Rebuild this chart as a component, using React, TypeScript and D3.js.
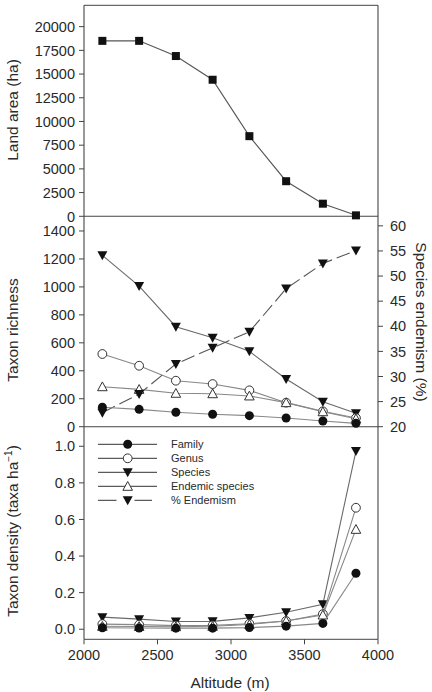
import React from "react";
import * as d3 from "d3";

const altitudes = [2125, 2375, 2625, 2875, 3125, 3375, 3625, 3850];
const landArea = [18500, 18500, 16900, 14400, 8450, 3700, 1330, 100];

const richFamily = [139, 124, 103, 89, 79, 62, 41, 24];
const richGenus = [520, 436, 329, 305, 260, 172, 110, 62];
const richSpecies = [1226, 1006, 715, 637, 539, 341, 179, 96];
const richEndemic = [286, 267, 239, 236, 220, 172, 107, 57];
const pctEndemism = [22.8, 26.5, 32.5, 35.7, 38.9, 47.5, 52.5, 55.1];

const densFamily = [0.008, 0.007, 0.006, 0.006, 0.009, 0.017, 0.032, 0.306];
const densGenus = [0.028, 0.025, 0.02, 0.021, 0.03, 0.045, 0.083, 0.664];
const densSpecies = [0.066, 0.055, 0.042, 0.043, 0.062, 0.093, 0.137, 0.974];
const densEndemic = [0.016, 0.015, 0.014, 0.016, 0.026, 0.045, 0.078, 0.546];

const xTicks = [2000, 2500, 3000, 3500, 4000];
const areaTicks = [0, 2500, 5000, 7500, 10000, 12500, 15000, 17500, 20000];
const richTicks = [0, 200, 400, 600, 800, 1000, 1200, 1400];
const endemTicks = [20, 25, 30, 35, 40, 45, 50, 55, 60];
const densTicks = [0, 0.2, 0.4, 0.6, 0.8, 1.0];

const legendLabels = ["Family", "Genus", "Species", "Endemic species", "% Endemism"];

const FONT = "'Liberation Sans', Arial, sans-serif";
const TEXT = "#2a2a2a";
const AXIS = "#444";
const LINE = "#6a6a6a";
const TICK_FS = 14.5;

const L = 84, R = 378;
const T1 = 5.3, B1 = 216.3, B2 = 426.7, B3 = 639.3;

type MarkerKind = "square" | "circleFilled" | "circleOpen" | "triDown" | "triUpOpen";

function Marker({ kind, x, y }: { kind: MarkerKind; x: number; y: number }) {
  switch (kind) {
    case "square":
      return <rect x={x - 4} y={y - 4} width={8} height={8} fill="#111" />;
    case "circleFilled":
      return <circle cx={x} cy={y} r={4.5} fill="#111" />;
    case "circleOpen":
      return <circle cx={x} cy={y} r={4.4} fill="#fff" stroke="#333" strokeWidth={1} />;
    case "triDown":
      return <path d={`M${x - 5},${y - 4} L${x + 5},${y - 4} L${x},${y + 5} Z`} fill="#111" />;
    case "triUpOpen":
      return (
        <path
          d={`M${x - 4.8},${y + 4} L${x + 4.8},${y + 4} L${x},${y - 4.8} Z`}
          fill="#fff"
          stroke="#333"
          strokeWidth={1}
        />
      );
  }
}

function Series({
  values,
  y,
  x,
  kind,
  dash,
  color = LINE,
}: {
  values: number[];
  y: d3.ScaleLinear<number, number>;
  x: d3.ScaleLinear<number, number>;
  kind: MarkerKind;
  dash?: string;
  color?: string;
}) {
  const line = d3
    .line<number>()
    .x((_, i) => x(altitudes[i]))
    .y((v) => y(v));
  return (
    <g>
      <path d={line(values) || ""} fill="none" stroke={color} strokeWidth={1.1} strokeDasharray={dash} />
      {values.map((v, i) => (
        <Marker key={i} kind={kind} x={x(altitudes[i])} y={y(v)} />
      ))}
    </g>
  );
}

export default function App() {
  const x = d3.scaleLinear().domain([2000, 4000]).range([L, R]);
  const yTop = d3.scaleLinear().domain([0, 22250]).range([B1, T1]);
  const yMid = d3.scaleLinear().domain([0, 1505]).range([B2, B1]);
  const yRight = d3.scaleLinear().domain([20, 61.9]).range([B2, B1]);
  const yBot = d3.scaleLinear().domain([-0.055, 1.107]).range([B3, B2]);

  const leftTicks = (scale: d3.ScaleLinear<number, number>, ticks: number[], fmt: (v: number) => string) =>
    ticks.map((t) => (
      <g key={t}>
        <line x1={L - 5} x2={L} y1={scale(t)} y2={scale(t)} stroke={AXIS} strokeWidth={1} />
        <text x={L - 9} y={scale(t)} dy="0.36em" textAnchor="end" fontSize={TICK_FS} fill={TEXT} fontFamily={FONT}>
          {fmt(t)}
        </text>
      </g>
    ));

  const legendY = [444.3, 458.3, 472.3, 486.3, 500.3];
  const legendKinds: MarkerKind[] = ["circleFilled", "circleOpen", "triDown", "triUpOpen", "triDown"];

  return (
    <svg
      width={432}
      height={692}
      style={{ position: "absolute", left: 0, top: 0, background: "#fff" }}
      fontFamily={FONT}
    >
      <rect x={0} y={0} width={432} height={692} fill="#fff" />

      {/* frames */}
      <line x1={L} x2={R} y1={T1} y2={T1} stroke={AXIS} strokeWidth={1} />
      <line x1={L} x2={R} y1={B1} y2={B1} stroke={AXIS} strokeWidth={1.1} />
      <line x1={L} x2={R} y1={B2} y2={B2} stroke={AXIS} strokeWidth={1.1} />
      <line x1={L} x2={R} y1={B3} y2={B3} stroke={AXIS} strokeWidth={1} />
      <line x1={L} x2={L} y1={T1} y2={B3} stroke={AXIS} strokeWidth={1.1} />
      <line x1={R} x2={R} y1={T1} y2={B3} stroke={AXIS} strokeWidth={1.1} />

      {/* top panel */}
      {leftTicks(yTop, areaTicks, (v) => String(v))}
      <Series values={landArea} x={x} y={yTop} kind="square" color="#555" />

      {/* middle panel */}
      {leftTicks(yMid, richTicks, (v) => String(v))}
      {endemTicks.map((t) => (
        <g key={t}>
          <line x1={R} x2={R + 5} y1={yRight(t)} y2={yRight(t)} stroke={AXIS} strokeWidth={1} />
          <text x={R + 12} y={yRight(t)} dy="0.36em" textAnchor="start" fontSize={TICK_FS} fill={TEXT} fontFamily={FONT}>
            {t}
          </text>
        </g>
      ))}
      <Series values={richSpecies} x={x} y={yMid} kind="triDown" />
      <Series values={richGenus} x={x} y={yMid} kind="circleOpen" color="#888" />
      <Series values={richEndemic} x={x} y={yMid} kind="triUpOpen" color="#888" />
      <Series values={pctEndemism} x={x} y={yRight} kind="triDown" dash="14,5" color="#555" />
      <Series values={richFamily} x={x} y={yMid} kind="circleFilled" color="#888" />

      {/* bottom panel */}
      {leftTicks(yBot, densTicks, (v) => v.toFixed(1))}
      {xTicks.map((t) => (
        <g key={t}>
          <line x1={x(t)} x2={x(t)} y1={B3} y2={B3 + 5} stroke={AXIS} strokeWidth={1} />
          <text x={x(t)} y={B3 + 15} dy="0.36em" textAnchor="middle" fontSize={TICK_FS} fill={TEXT} fontFamily={FONT}>
            {t}
          </text>
        </g>
      ))}
      <Series values={densSpecies} x={x} y={yBot} kind="triDown" />
      <Series values={densGenus} x={x} y={yBot} kind="circleOpen" color="#888" />
      <Series values={densEndemic} x={x} y={yBot} kind="triUpOpen" color="#888" />
      <Series values={densFamily} x={x} y={yBot} kind="circleFilled" color="#888" />

      {/* legend */}
      {legendLabels.map((lab, i) => (
        <g key={lab}>
          <line
            x1={98}
            x2={i === 4 ? 152 : 157}
            y1={legendY[i]}
            y2={legendY[i]}
            stroke="#333"
            strokeWidth={1}
            strokeDasharray={i === 4 ? "18.5,18" : undefined}
          />
          <Marker kind={legendKinds[i]} x={127.7} y={legendY[i]} />
          <text x={171} y={legendY[i]} dy="0.36em" fontSize={11} fill={TEXT} fontFamily={FONT}>
            {lab}
          </text>
        </g>
      ))}

      {/* axis titles */}
      <text
        transform={`translate(18,${110}) rotate(-90)`}
        textAnchor="middle"
        fontSize={15.5}
        fill={TEXT}
        fontFamily={FONT}
      >
        Land area (ha)
      </text>
      <text
        transform={`translate(18,${330}) rotate(-90)`}
        textAnchor="middle"
        fontSize={15.5}
        fill={TEXT}
        fontFamily={FONT}
      >
        Taxon richness
      </text>
      <text
        transform={`translate(18,${531}) rotate(-90)`}
        textAnchor="middle"
        fontSize={15.5}
        fill={TEXT}
        fontFamily={FONT}
      >
        Taxon density (taxa ha
        <tspan fontSize={10} dy={-6}>
          −1
        </tspan>
        <tspan dy={6}>)</tspan>
      </text>
      <text
        transform={`translate(416,${322}) rotate(90)`}
        textAnchor="middle"
        fontSize={15.5}
        fill={TEXT}
        fontFamily={FONT}
      >
        Species endemism (%)
      </text>
      <text x={230} y={688} textAnchor="middle" fontSize={15.5} fill={TEXT} fontFamily={FONT}>
        Altitude (m)
      </text>
    </svg>
  );
}
